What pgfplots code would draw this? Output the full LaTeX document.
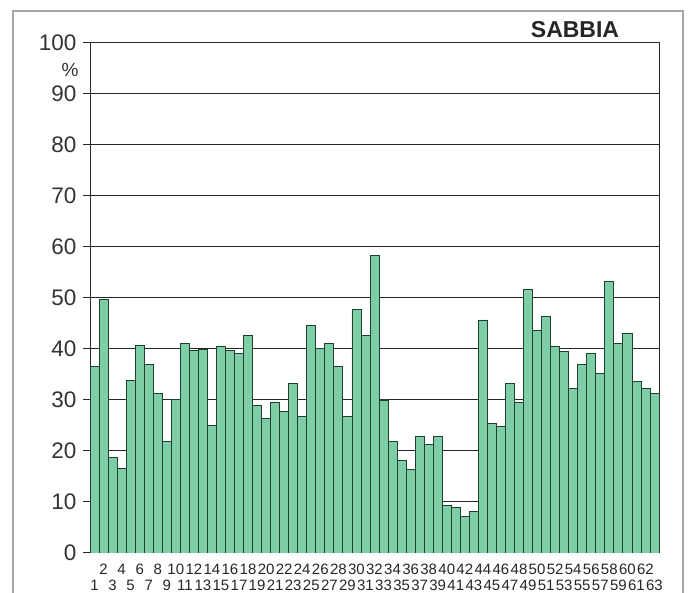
\documentclass[border=0pt]{standalone}
\usepackage{pgfplots}
\pgfplotsset{compat=1.18}
\usepackage{fontspec}
\setmainfont{Liberation Sans}
\definecolor{barfill}{RGB}{125,206,167}
\definecolor{baredge}{RGB}{30,65,45}
\begin{document}
\begin{tikzpicture}[x=1pt,y=1pt]
\useasboundingbox (0,0) rectangle (688,593);
\draw[black!35, line width=1.5pt] (13,-2) -- (13,582) -- (683,582) -- (683,-2);
\begin{axis}[
  at={(90pt,40pt)}, anchor=south west,
  scale only axis, width=569pt, height=510pt,
  xmin=0.5, xmax=63.5, ymin=0, ymax=100,
  ytick={0,10,...,100},
  ytick pos=left,
  ymajorgrids, grid style={black!85, line width=1pt},
  axis line style={black!85, line width=1pt},
  tick align=outside, major tick length=7pt,
  ytick style={black!85, line width=1pt},
  xtick style={draw=none},
  xtick={1,3,...,63},
  extra x ticks={2,4,...,62},
  extra x tick style={xticklabel style={yshift=16pt}},
  /pgf/number format/assume math mode=true,
  yticklabel style={font=\fontsize{22.5}{22.5}\selectfont, text=black!80, xshift=-3pt},
  xticklabel style={font=\fontsize{15}{15}\selectfont, text=black!85, inner sep=0pt, yshift=-20pt},
]
\addplot[ybar, bar width=1, bar shift=0pt, fill=barfill, draw=baredge, line width=0.8pt] coordinates {
(1,36.5) (2,49.8) (3,18.7) (4,16.6) (5,33.8) (6,40.8) (7,37.0) (8,31.2) (9,21.8) (10,30.1)
(11,41.1) (12,39.8) (13,39.9) (14,25.0) (15,40.6) (16,39.8) (17,39.2) (18,42.6) (19,29.0) (20,26.4)
(21,29.5) (22,27.7) (23,33.3) (24,26.7) (25,44.7) (26,40.1) (27,41.1) (28,36.5) (29,26.7) (30,47.8)
(31,42.7) (32,58.4) (33,30.0) (34,21.8) (35,18.2) (36,16.3) (37,22.9) (38,21.3) (39,22.9) (40,9.3)
(41,9.0) (42,7.1) (43,8.1) (44,45.7) (45,25.4) (46,24.8) (47,33.3) (48,29.5) (49,51.6) (50,43.7)
(51,46.3) (52,40.5) (53,39.5) (54,32.3) (55,36.9) (56,39.2) (57,35.2) (58,53.2) (59,41.1) (60,43.1)
(61,33.6) (62,32.3) (63,31.3)
};
\end{axis}
\node[font=\fontsize{19}{19}\selectfont, text=black!80] at (70,523) {\%};
\node[font=\bfseries\fontsize{23}{23}\selectfont, text=black!85] at (575,563) {SABBIA};
\end{tikzpicture}
\end{document}
